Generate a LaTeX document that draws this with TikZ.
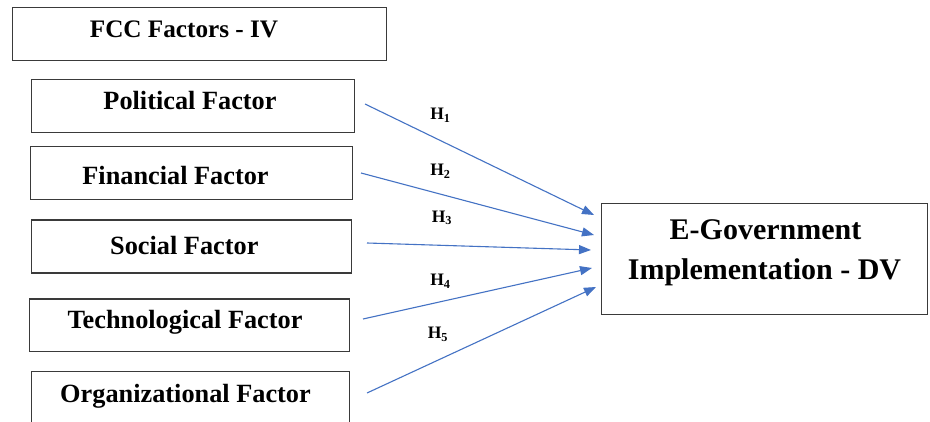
\documentclass[tikz,border=0pt]{standalone}
\usepackage{fontspec}
\setmainfont{Liberation Serif}
\usetikzlibrary{arrows.meta}
\definecolor{arrowblue}{HTML}{4472C4}
\definecolor{boxgray}{HTML}{3A3A3A}
\tikzset{
  box/.style={draw=boxgray, line width=1.1pt, inner sep=0pt, anchor=north west},
  lbl/.style={inner sep=0pt, anchor=base, font=\bfseries\fontsize{26.3}{30}\selectfont},
  hlbl/.style={inner sep=0pt, anchor=center, font=\bfseries\fontsize{17.5}{20}\selectfont},
  conn/.style={draw=arrowblue, line width=1.1pt, -{Triangle[length=12pt,width=9pt]}}
}
\begin{document}
\begin{tikzpicture}[x=1pt,y=-1pt]
\clip (0,0) rectangle (930,422);
\fill[white] (0,0) rectangle (930,422);
% boxes
\node[box, minimum width=374pt, minimum height=53pt] (fcc) at (12,7) {};
\node[box, minimum width=323pt, minimum height=53pt] (pol) at (31,79) {};
\node[box, minimum width=322pt, minimum height=53pt] (fin) at (29.5,146) {};
\node[box, minimum width=320pt, minimum height=53pt] (soc) at (31,219.5) {};
\node[box, minimum width=320pt, minimum height=52.5pt] (tec) at (28.5,298.5) {};
\node[box, minimum width=318pt, minimum height=70pt] (org) at (30.5,371) {};
\node[box, minimum width=326pt, minimum height=111pt] (eg) at (601,203) {};
% texts
\node[lbl, font=\bfseries\fontsize{25.2}{30}\selectfont] (tfcc) at (184,37.3) {FCC Factors - IV};
\node[lbl] (tpol) at (190,109.3) {Political Factor};
\node[lbl] (tfin) at (175.5,184.3) {Financial Factor};
\node[lbl] (tsoc) at (184.3,255) {Social Factor};
\node[lbl] (ttec) at (185,329) {Technological Factor};
\node[lbl] (torg) at (185.5,402.7) {Organizational Factor};
\node[lbl, font=\bfseries\fontsize{30}{40}\selectfont] (teg1) at (765.5,240) {E-Government};
\node[lbl, font=\bfseries\fontsize{30}{40}\selectfont] (teg2) at (764.5,280) {Implementation - DV};
% connector ends
\coordinate (s1) at (365,104);
\coordinate (s2) at (361,173);
\coordinate (s3) at (367,243);
\coordinate (s4) at (363,319);
\coordinate (s5) at (367,393);
\coordinate (e1) at (594,215);
\coordinate (e2) at (594,235);
\coordinate (e3) at (591,250);
\coordinate (e4) at (592,268);
\coordinate (e5) at (596,287);
\draw[conn] (s1) -- (e1);
\draw[conn] (s2) -- (e2);
\draw[conn] (s3) -- (e3);
\draw[conn] (s4) -- (e4);
\draw[conn] (s5) -- (e5);
% hypothesis labels
\node[hlbl] (h1) at (440.5,115) {H\textsubscript{1}};
\node[hlbl] (h2) at (440.5,171) {H\textsubscript{2}};
\node[hlbl] (h3) at (442,218) {H\textsubscript{3}};
\node[hlbl] (h4) at (440.5,281) {H\textsubscript{4}};
\node[hlbl] (h5) at (438,334.5) {H\textsubscript{5}};
\end{tikzpicture}
\end{document}
